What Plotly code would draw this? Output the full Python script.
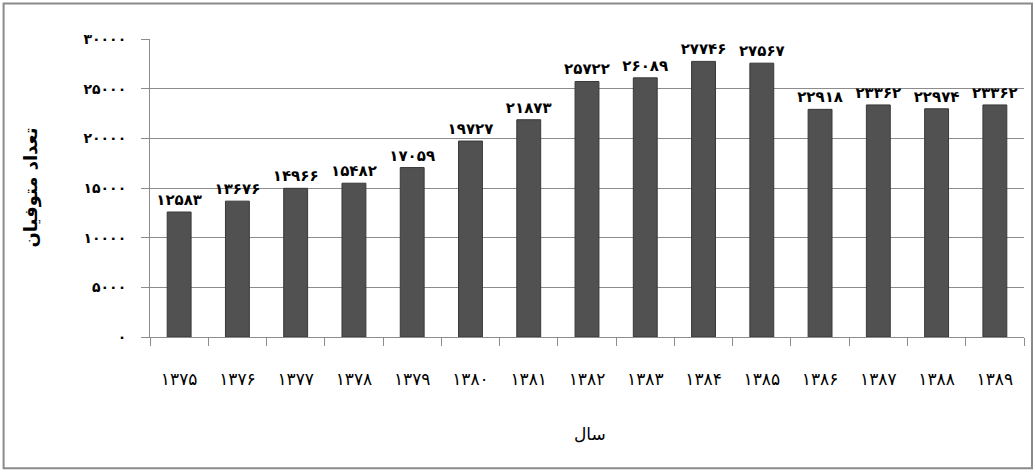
import plotly.graph_objects as go

# Years (Solar Hijri) and number of deaths per year
years = [1375, 1376, 1377, 1378, 1379, 1380, 1381, 1382, 1383, 1384, 1385, 1386, 1387, 1388, 1389]
deaths = [12583, 13676, 14966, 15482, 17059, 19727, 21873, 25722, 26089, 27746, 27567, 22918, 23362, 22974, 23362]
y_ticks = [0, 5000, 10000, 15000, 20000, 25000, 30000]

x_title = "سال"
y_title = "تعداد متوفیان"

FA_DIGITS = str.maketrans("0123456789", "۰۱۲۳۴۵۶۷۸۹")


def fa(n):
    return str(n).translate(FA_DIGITS)


W, H = 1035, 472
ML, MR, MT, MB = 149.5, 11, 38.7, 134.5
PW, PH = W - ML - MR, H - MT - MB

FONT = "DejaVu Sans"

fig = go.Figure(
    go.Bar(
        x=[fa(y) for y in years],
        y=deaths,
        text=[fa(v) for v in deaths],
        textposition="outside",
        constraintext="none",
        textfont=dict(family=FONT, size=15, color="#000000", weight="bold"),
        cliponaxis=False,
        marker=dict(color="#515151", line=dict(color="#383838", width=1)),
        width=0.41,
    )
)

fig.update_layout(
    width=W,
    height=H,
    margin=dict(l=ML, r=MR, t=MT, b=MB, pad=0),
    paper_bgcolor="#ffffff",
    plot_bgcolor="#ffffff",
    showlegend=False,
    font=dict(family=FONT, color="#000000"),
    xaxis=dict(
        type="category",
        showgrid=False,
        showline=True,
        linecolor="#8c8c8c",
        linewidth=1,
        ticks="outside",
        tickson="boundaries",
        ticklen=8,
        tickcolor="#8c8c8c",
        tickfont=dict(family=FONT, size=17, color="#000000"),
        ticklabelstandoff=27,
    ),
    yaxis=dict(
        range=[0, 30000],
        tickvals=y_ticks,
        ticktext=[fa(v) for v in y_ticks],
        showgrid=True,
        gridcolor="#8c8c8c",
        gridwidth=1,
        zeroline=False,
        showline=True,
        linecolor="#8c8c8c",
        linewidth=1,
        ticks="outside",
        ticklen=8,
        tickcolor="#8c8c8c",
        tickfont=dict(family=FONT, size=14, color="#000000", weight="bold"),
        ticklabelstandoff=12,
    ),
    annotations=[
        dict(
            text=x_title,
            xref="paper", yref="paper",
            x=(590 - ML) / PW, y=(H - MB - 435) / PH,
            showarrow=False,
            font=dict(family=FONT, size=17),
            xanchor="center", yanchor="middle",
        ),
        dict(
            text=y_title,
            xref="paper", yref="paper",
            x=(30 - ML) / PW, y=0.5,
            textangle=-90,
            showarrow=False,
            font=dict(family=FONT, size=18, weight="bold"),
            xanchor="center", yanchor="middle",
        ),
    ],
    shapes=[
        dict(
            type="rect",
            xref="paper", yref="paper",
            x0=(3 - ML) / PW, x1=(1032 - ML) / PW,
            y0=(H - MB - 469) / PH, y1=(H - MB - 3) / PH,
            line=dict(color="#8a8a8a", width=2),
            fillcolor="rgba(0,0,0,0)",
            layer="below",
        )
    ],
)

fig.write_html("out.html")
